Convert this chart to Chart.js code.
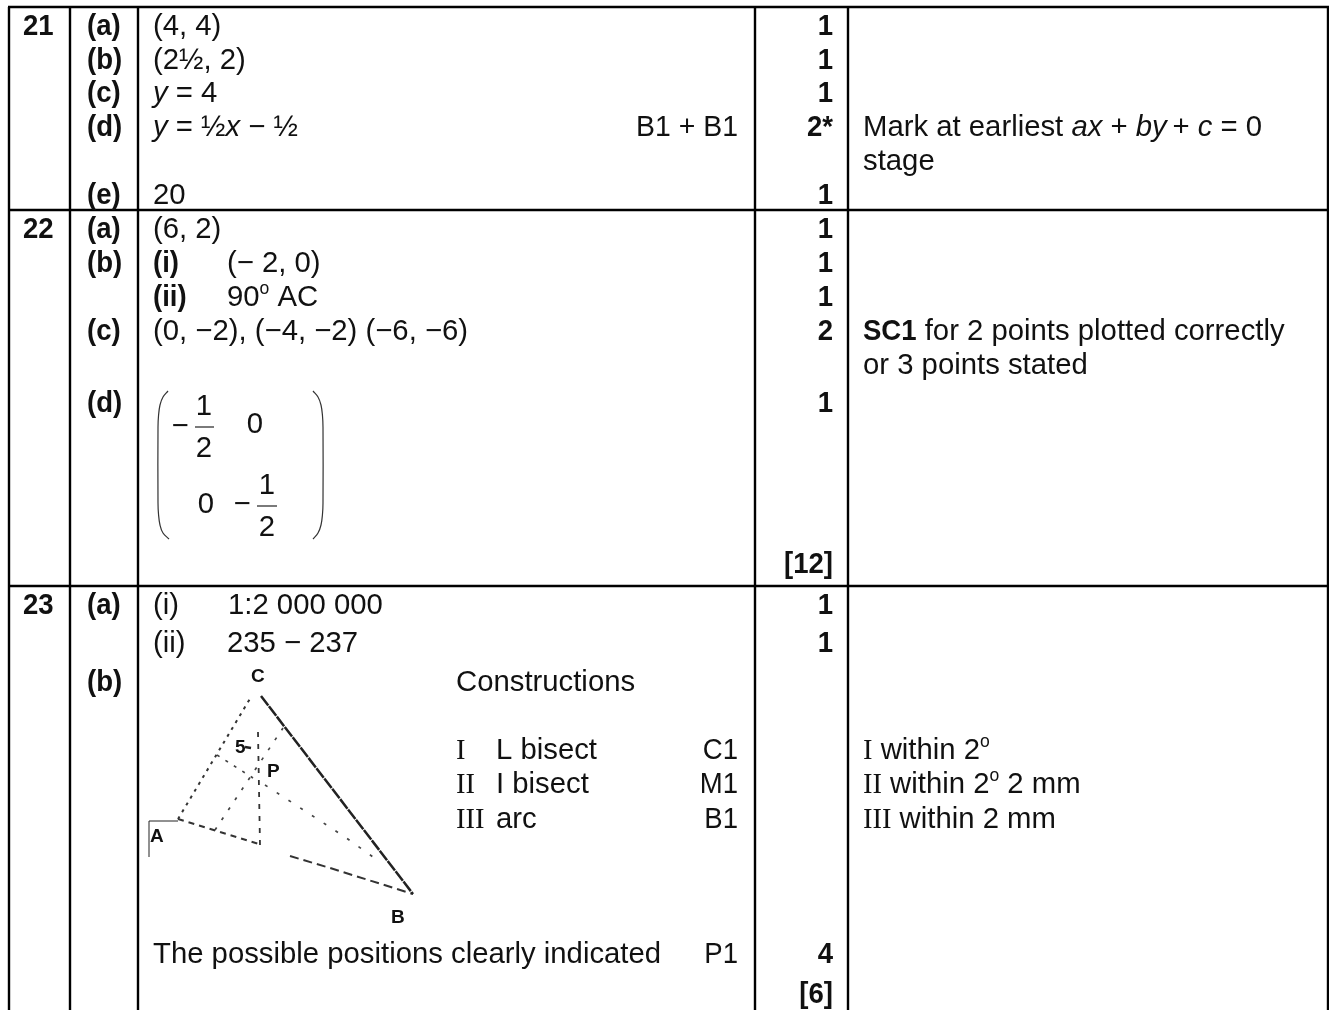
<!DOCTYPE html>
<html lang="en">
<head>
    <meta charset="UTF-8">
    <title>Mark scheme 21-23</title>
    <script src="https://cdn.jsdelivr.net/npm/chart.js"></script>
    <style>
        html, body { margin: 0; padding: 0; background: #fff; }
        canvas { display: block; }
    </style>
</head>
<body>
    <canvas id="sheet" width="1329" height="1010"></canvas>
    <script>
        // markup in the strings: **bold**, _italic_, ^superscript^, ~serif~
        const questionNumbers = ['21', '22', '23'];
        const questionRows = [35, 238, 614];

        const partLabels = ['(a)', '(b)', '(c)', '(d)', '(e)', '(a)', '(b)', '(c)', '(d)', '(a)', '(b)'];
        const partRows = [35, 69, 102, 136, 204, 238, 272, 340, 412, 614, 691];

        const answerTexts = ['(4, 4)', '(2½, 2)', '_y_ = 4', '_y_ = ½_x_ − ½', '20', '(6, 2)',
            '**(i)**', '(− 2, 0)', '**(ii)**', '90^o^ AC', '(0, −2), (−4, −2) (−6, −6)',
            '(i)', '1:2 000 000', '(ii)', '235 − 237', 'Constructions',
            '~I~', 'L bisect', '~II~', 'I bisect', '~III~', 'arc',
            'The possible positions clearly indicated'];
        const answerX = [153, 153, 153, 153, 153, 153, 153, 227, 153, 227, 153,
            153, 228, 153, 227, 456, 456, 496, 456, 496, 456, 496, 153];
        const answerRows = [35, 69, 102, 136, 204, 238, 272, 272, 306, 306, 340,
            614, 614, 652, 652, 691, 759, 759, 793, 793, 828, 828, 963];

        const methodMarks = ['B1 + B1', 'C1', 'M1', 'B1', 'P1'];
        const methodRows = [136, 759, 793, 828, 963];

        const markValues = ['1', '1', '1', '2*', '1', '1', '1', '1', '2', '1', '[12]', '1', '1', '4', '[6]'];
        const markRows = [35, 69, 102, 136, 204, 238, 272, 306, 340, 412, 573, 614, 652, 963, 1003];

        const noteTexts = ['Mark at earliest _ax_ + _by_\u2009+ _c_ = 0', 'stage',
            '**SC1** for 2 points plotted correctly', 'or 3 points stated',
            '~I~ within 2^o^', '~II~ within 2^o^ 2 mm', '~III~ within 2 mm'];
        const noteRows = [136, 170, 340, 374, 759, 793, 828];

        const matrixTexts = ['−', '1', '2', '0', '0', '−', '1', '2'];
        const matrixX = [180, 204, 204, 255, 206, 242, 267, 267];
        const matrixRows = [435, 415, 457, 433, 513, 513, 494, 536];

        const figureLabels = ['C', '5', 'P', 'A', 'B'];
        const figureX = [251, 235, 267, 150, 391];
        const figureRows = [682, 753, 777, 842, 923];

        // table rules
        const columnRules = [9, 70, 138, 755, 848, 1328];
        const rowRules = [7, 210, 586];

        // matrix brackets and fraction bars
        const bracketLeft = [[168, 391], [163, 397], [160, 405], [158.5, 416], [158, 427], [158, 503],
            [158.5, 514], [160, 525], [163, 533], [169, 539]];
        const bracketRight = [[313, 391], [318, 397], [321, 405], [322.5, 416], [323, 427], [323, 503],
            [322.5, 514], [321, 525], [318, 533], [313, 539]];
        const fractionBars = [[[195, 427], [214, 427]], [[257, 506], [277, 506]]];

        // construction sketch
        const sideAC = [[178, 819], [251, 697]];
        const sideCB = [[261, 696], [413, 894]];
        const sideAB1 = [[178, 819], [262, 845]];
        const sideAB2 = [[290, 856], [330, 868], [413, 894]];
        const bisectC = [[258, 732], [260, 845]];
        const bisectA = [[217, 755], [253, 778]];
        const bisectB = [[265, 785], [345, 837], [380, 862]];
        const bisectD = [[215, 830], [283, 728]];
        const labelBox = [[149, 857], [149, 821], [178, 821]];
        const arcMark = [[245, 747], [251, 748]];

        function toPoints(pairs) {
            return pairs.map(p => ({ x: p[0], y: p[1] }));
        }

        function lineSet(pairs, width, color, dash) {
            return {
                data: toPoints(pairs),
                showLine: true,
                borderColor: color,
                borderWidth: width,
                borderDash: dash || [],
                pointRadius: 0,
                fill: false,
                tension: 0
            };
        }

        const datasets = [];
        columnRules.forEach(x => datasets.push(lineSet([[x, 7], [x, 1010]], 2.4, '#000')));
        rowRules.forEach(y => datasets.push(lineSet([[8, y], [1329, y]], 2.4, '#000')));

        const leftCurve = lineSet(bracketLeft, 1.2, '#333');
        leftCurve.tension = 0.4;
        const rightCurve = lineSet(bracketRight, 1.2, '#333');
        rightCurve.tension = 0.4;
        datasets.push(leftCurve, rightCurve);
        fractionBars.forEach(b => datasets.push(lineSet(b, 1.2, '#222')));

        datasets.push(lineSet(sideAC, 2, '#333', [3, 5]));
        datasets.push(lineSet(sideCB, 2.5, '#222', [12, 1]));
        datasets.push(lineSet(sideAB1, 2, '#333', [6, 5]));
        datasets.push(lineSet(sideAB2, 2, '#333', [9, 5]));
        datasets.push(lineSet(bisectC, 1.8, '#333', [5, 7]));
        datasets.push(lineSet(bisectA, 1.7, '#444', [3, 7]));
        datasets.push(lineSet(bisectB, 1.7, '#444', [3, 11]));
        datasets.push(lineSet(bisectD, 1.7, '#444', [3, 9]));
        datasets.push(lineSet(arcMark, 2.5, '#222'));
        datasets.push(lineSet(labelBox, 1, '#222'));

        const TEXT_SIZE = 29.3;
        const SERIF_SIZE = 28.5;
        const BOLD_SQUEEZE = 0.94; // the bold runs are as tall as the plain ones but narrower
        const INK = '#111';

        function fontFor(style, size) {
            const family = style === 'serif' ? '"Liberation Serif"' : '"Liberation Sans"';
            const prefix = style === 'bold' ? 'bold ' : style === 'italic' ? 'italic ' : '';
            return prefix + size + 'px ' + family;
        }

        function parseRuns(text) {
            return text.split(/(\*\*.+?\*\*(?!\*)|_.+?_|\^.+?\^|~.+?~)/).filter(Boolean).map(part => {
                if (part.startsWith('**')) return { text: part.slice(2, -2), style: 'bold' };
                if (part[0] === '_') return { text: part.slice(1, -1), style: 'italic' };
                if (part[0] === '^') return { text: part.slice(1, -1), style: 'sup' };
                if (part[0] === '~') return { text: part.slice(1, -1), style: 'serif' };
                return { text: part, style: 'plain' };
            });
        }

        function drawRuns(ctx, text, x, y, align, squeeze) {
            const runs = parseRuns(text);
            const sizeOf = r => r.style === 'serif' ? SERIF_SIZE : r.style === 'sup' ? TEXT_SIZE * 0.6 : TEXT_SIZE;
            const stretchOf = r => r.style === 'bold' ? BOLD_SQUEEZE : (squeeze || 1);
            let pen = x;
            if (align === 'right') {
                runs.forEach(r => {
                    ctx.font = fontFor(r.style, sizeOf(r));
                    pen -= ctx.measureText(r.text).width * stretchOf(r);
                });
            }
            runs.forEach(r => {
                ctx.font = fontFor(r.style, sizeOf(r));
                ctx.save();
                ctx.translate(pen, r.style === 'sup' ? y - TEXT_SIZE * 0.42 : y);
                ctx.scale(stretchOf(r), 1);
                ctx.fillText(r.text, 0, 0);
                ctx.restore();
                pen += ctx.measureText(r.text).width * stretchOf(r);
            });
        }

        // the table text sits on the same scales as the rules
        const tableText = {
            id: 'tableText',
            afterDatasetsDraw(chart) {
                const { ctx, scales } = chart;
                const px = v => scales.x.getPixelForValue(v);
                const py = v => scales.y.getPixelForValue(v);
                ctx.save();
                ctx.fillStyle = INK;
                ctx.textBaseline = 'alphabetic';
                ctx.textAlign = 'left';
                questionNumbers.forEach((t, i) => drawRuns(ctx, '**' + t + '**', px(23), py(questionRows[i])));
                partLabels.forEach((t, i) => drawRuns(ctx, '**' + t + '**', px(87), py(partRows[i])));
                answerTexts.forEach((t, i) => drawRuns(ctx, t, px(answerX[i]), py(answerRows[i])));
                methodMarks.forEach((t, i) => drawRuns(ctx, t, px(738), py(methodRows[i]), 'right', t.length > 2 ? 0.97 : BOLD_SQUEEZE));
                markValues.forEach((t, i) => drawRuns(ctx, '**' + t + '**', px(833), py(markRows[i]), 'right'));
                noteTexts.forEach((t, i) => drawRuns(ctx, t, px(863), py(noteRows[i])));
                ctx.textAlign = 'center';
                matrixTexts.forEach((t, i) => {
                    ctx.font = fontFor('plain', TEXT_SIZE);
                    ctx.fillText(t, px(matrixX[i]), py(matrixRows[i]));
                });
                ctx.textAlign = 'left';
                figureLabels.forEach((t, i) => {
                    ctx.font = fontFor('bold', 19);
                    ctx.fillText(t, px(figureX[i]), py(figureRows[i]));
                });
                ctx.restore();
            }
        };

        new Chart(document.getElementById('sheet').getContext('2d'), {
            type: 'scatter',
            data: { datasets: datasets },
            options: {
                responsive: false,
                animation: false,
                layout: { padding: 0 },
                plugins: { legend: { display: false }, tooltip: { enabled: false } },
                scales: {
                    x: { type: 'linear', min: 0, max: 1329, display: false },
                    y: { type: 'linear', min: 0, max: 1010, reverse: true, display: false }
                }
            },
            plugins: [tableText]
        });
    </script>
</body>
</html>
